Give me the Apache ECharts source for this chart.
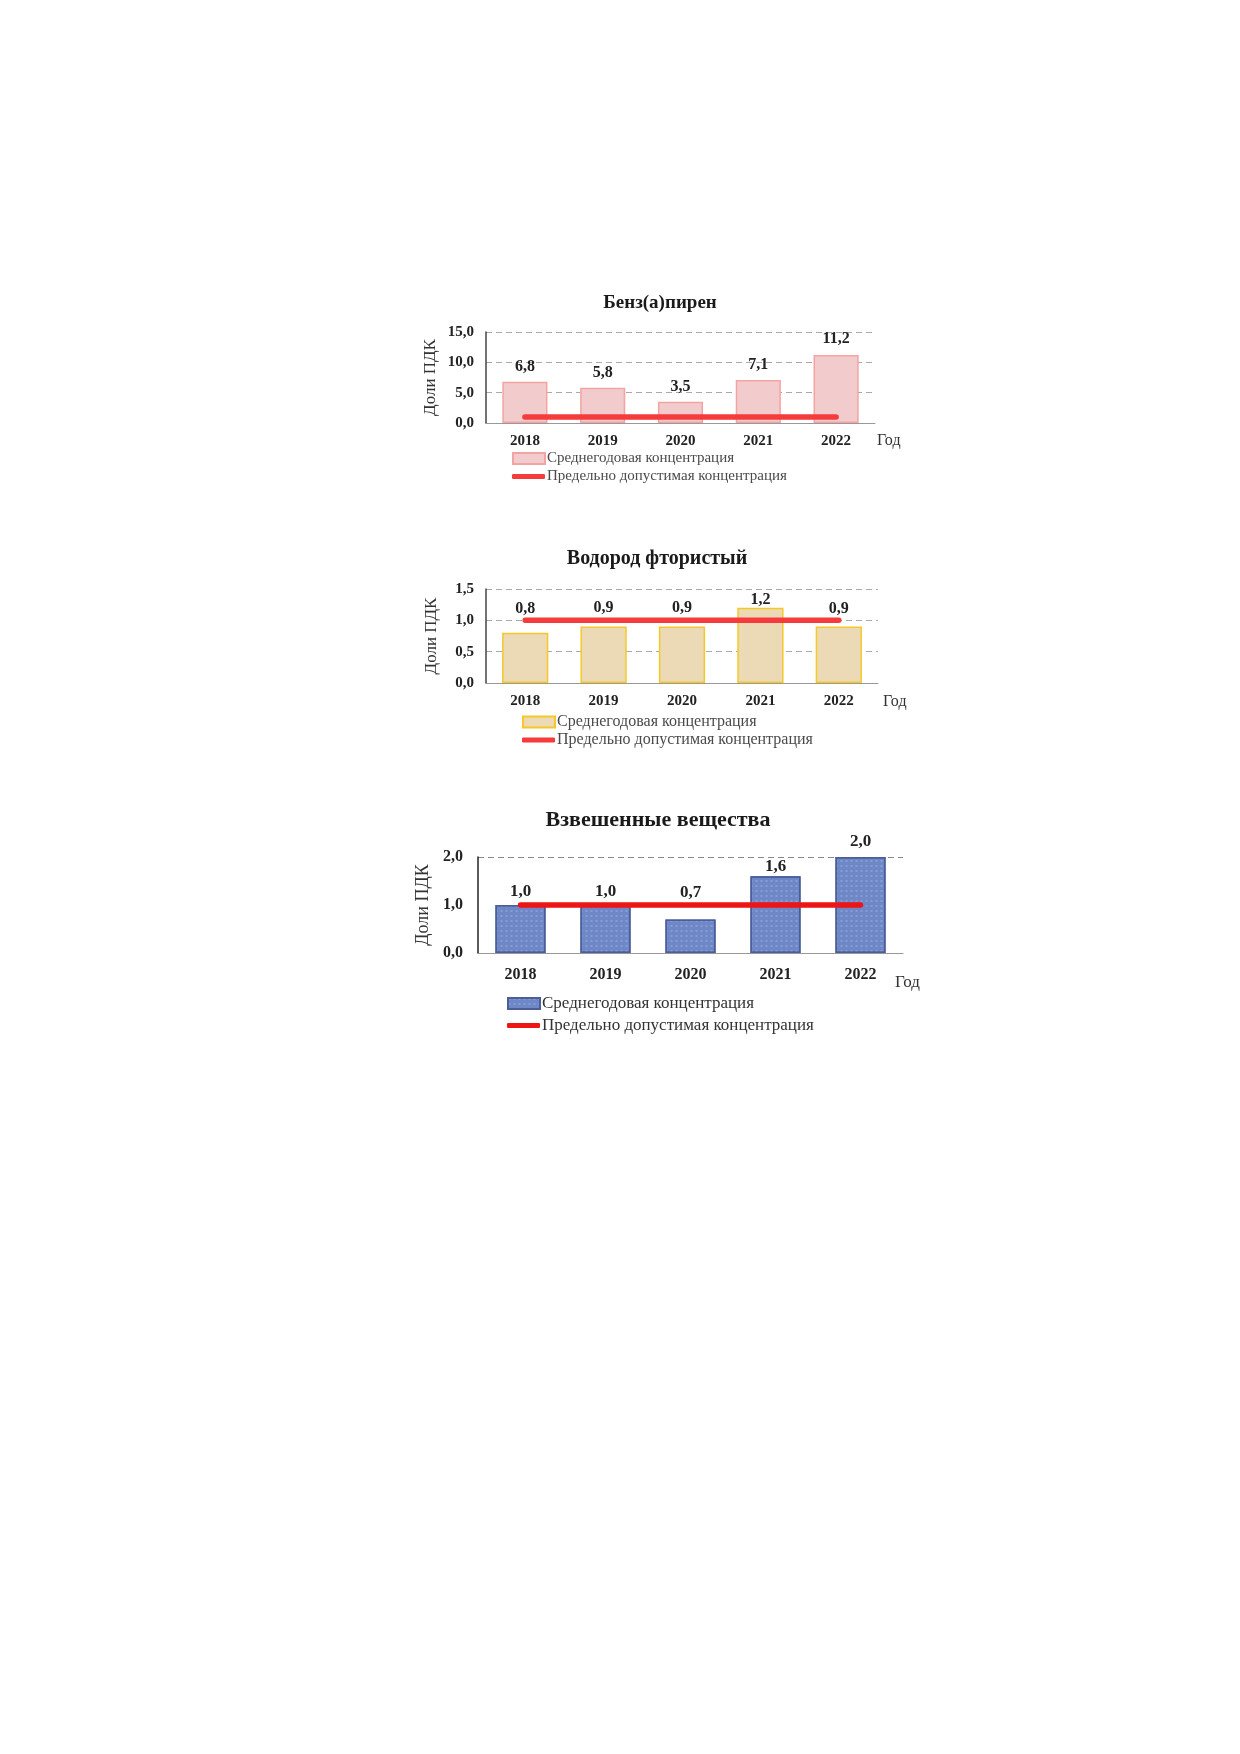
<!DOCTYPE html>
<html>
<head>
<meta charset="utf-8">
<script src="https://cdn.jsdelivr.net/npm/echarts@6/dist/echarts.min.js"></script>
<style>
html,body{margin:0;padding:0;background:#fff;}
#c{width:1240px;height:1754px;}
</style>
</head>
<body>
<div id="c"></div>
<script>
const years = ['2018', '2019', '2020', '2021', '2022'];
const benzValues = [6.8, 5.8, 3.5, 7.1, 11.2];
const hfValues = [0.8, 0.9, 0.9, 1.2, 0.9];
const ssValues = [1.0, 1.0, 0.7, 1.6, 2.0];
const pdkValues = [1, 1, 1, 1, 1];
const titles = ['Бенз(а)пирен', 'Водород фтористый', 'Взвешенные вещества'];
const yAxisName = 'Доли ПДК';
const xAxisName = 'Год';
const legendAvg = 'Среднегодовая концентрация';
const legendPdk = 'Предельно допустимая концентрация';

const FONT = 'Liberation Serif';
const fmt = v => Number(v).toFixed(1).replace('.', ',');

// style-only per-chart settings
const panels = [
  {values: benzValues, max: 15, interval: 5, grid: {left: 486, top: 332, width: 389, height: 91},
   title: {x: 660, top: 294, size: 19}, fill: '#f2cccc', border: '#f3a3a3', barWidth: '58%',
   gaps: [7, 7, 7, 7, 8], labelSize: 16, tickSize: 15, catSize: 15, nameSize: 17, nameGap: 47,
   tickMargin: 12, catMargin: 11, godSize: 16, godPad: 10, godGap: 2, legendLeft: 512, legendTop1: 451, legendTop2: 469, legendSize: 15,
   legendColor: '#4a4a4a', lineColor: '#f53b3b', lineWidth: 5.5, axisColor: '#444', splitColors: '#aaa'},
  {values: hfValues, max: 1.5, interval: 0.5, grid: {left: 486, top: 589, width: 392, height: 94},
   title: {x: 657, top: 549, size: 20}, fill: '#ecdab6', border: '#f5c828', barWidth: '59%',
   gaps: [16, 11, 11, 0, 10], labelSize: 16, tickSize: 15, catSize: 15, nameSize: 17, nameGap: 46,
   tickMargin: 12, catMargin: 11, godSize: 16, godPad: 11, godGap: 5, legendLeft: 522, legendTop1: 714, legendTop2: 732, legendSize: 16,
   legendColor: '#4a4a4a', lineColor: '#f53b3b', lineWidth: 5.5, axisColor: '#444', splitColors: '#aaa'},
  {values: ssValues, max: 2, interval: 1, grid: {left: 478, top: 857, width: 425, height: 96},
   title: {x: 658, top: 809, size: 22}, fill: '#6e87c6', border: '#4b5e99', barWidth: '59%',
   gaps: [5, 5, 18, 1, 7], labelSize: 17, tickSize: 16, catSize: 16, nameSize: 18, nameGap: 46,
   tickMargin: 15, catMargin: 14, godSize: 17, godPad: 21, godGap: -8, legendLeft: 507, legendTop1: 995, legendTop2: 1017, legendSize: 17,
   legendColor: '#333', lineColor: '#ee1515', lineWidth: 5.5, axisColor: '#222',
   splitColors: ['rgba(0,0,0,0)', 'rgba(0,0,0,0)', '#888'],
   decal: {symbol: 'rect', symbolSize: 0.7, color: 'rgba(190,205,240,0.45)', dashArrayX: [[3, 2]], dashArrayY: [2, 3]}}
];

const option = {
  backgroundColor: '#fff',
  animation: false,
  title: [], grid: [], xAxis: [], yAxis: [], series: [], legend: []
};

panels.forEach((p, i) => {
  option.title.push({
    text: titles[i], left: p.title.x, top: p.title.top, textAlign: 'center', padding: 0,
    textStyle: {fontFamily: FONT, fontWeight: 'bold', fontSize: p.title.size, color: '#1a1a1a'}
  });
  option.grid.push(Object.assign({containLabel: false}, p.grid));
  option.xAxis.push({
    type: 'category', gridIndex: i, data: years,
    name: xAxisName, nameLocation: 'end', nameGap: p.godGap,
    nameTextStyle: {fontFamily: FONT, fontSize: p.godSize, color: '#333', verticalAlign: 'top', align: 'left', padding: [p.godPad, 0, 0, 0]},
    axisLine: {show: true, lineStyle: {color: '#999', width: 1}},
    axisTick: {show: false},
    axisLabel: {fontFamily: FONT, fontWeight: 'bold', fontSize: p.catSize, color: '#222', margin: p.catMargin}
  });
  option.yAxis.push({
    type: 'value', gridIndex: i, min: 0, max: p.max, interval: p.interval,
    name: yAxisName, nameLocation: 'middle', nameGap: p.nameGap, nameRotate: 90,
    nameTextStyle: {fontFamily: FONT, fontSize: p.nameSize, color: '#333'},
    axisLine: {show: true, lineStyle: {color: p.axisColor, width: 1.5}},
    axisTick: {show: false},
    axisLabel: {fontFamily: FONT, fontWeight: 'bold', fontSize: p.tickSize, color: '#222', margin: p.tickMargin, formatter: fmt},
    splitLine: {show: true, lineStyle: {type: [6, 4], color: p.splitColors, width: 1}}
  });
  option.series.push({
    name: 'avg' + i, type: 'bar', xAxisIndex: i, yAxisIndex: i, barWidth: p.barWidth,
    data: p.values.map((v, k) => ({value: v, label: {distance: p.gaps[k]}})),
    itemStyle: Object.assign({color: p.fill, borderColor: p.border, borderWidth: 1.5}, p.decal ? {decal: p.decal} : {}),
    label: {show: true, position: 'top', formatter: d => fmt(d.value),
      fontFamily: FONT, fontWeight: 'bold', fontSize: p.labelSize, color: '#222'},
    z: 2
  });
  option.series.push({
    name: 'pdk' + i, type: 'line', xAxisIndex: i, yAxisIndex: i, data: pdkValues,
    symbol: 'none', lineStyle: {color: p.lineColor, width: p.lineWidth, cap: 'round'},
    itemStyle: {color: p.lineColor}, z: 3
  });
  option.legend.push({
    data: ['avg' + i], left: p.legendLeft, top: p.legendTop1, orient: 'vertical', padding: 0,
    icon: 'rect', itemWidth: 32, itemHeight: 11, itemGap: 0, formatter: legendAvg,
    textStyle: {fontFamily: FONT, fontSize: p.legendSize, color: p.legendColor, padding: [0, 0, 0, -3]},
    selectedMode: false
  });
  option.legend.push({
    data: ['pdk' + i], left: p.legendLeft, top: p.legendTop2, orient: 'vertical', padding: 0,
    icon: 'roundRect', itemWidth: 33, itemHeight: 5, itemGap: 0, formatter: legendPdk,
    textStyle: {fontFamily: FONT, fontSize: p.legendSize, color: p.legendColor, padding: [0, 0, 0, -3]},
    selectedMode: false
  });
});

const chart = echarts.init(document.getElementById('c'), null, {renderer: 'canvas'});
chart.setOption(option);
</script>
</body>
</html>
